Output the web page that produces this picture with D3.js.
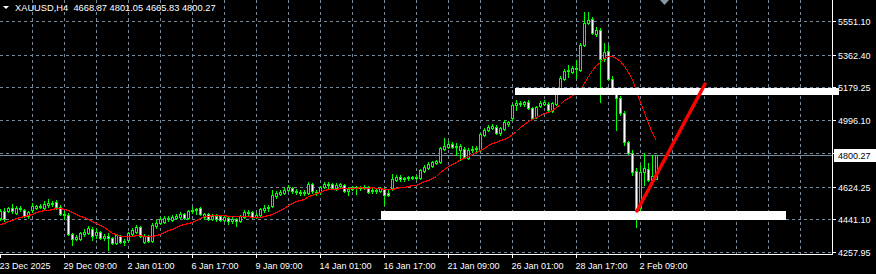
<!DOCTYPE html>
<html>
<head>
<meta charset="utf-8">
<script src="https://cdn.jsdelivr.net/npm/d3@7"></script>
<style>
  body { margin: 0; background: #000; }
  svg { display: block; }
  text { font-family: "Liberation Sans", Arial, sans-serif; font-size: 9px; fill: #fff; }
</style>
</head>
<body>
<div id="chart"></div>
<script>
// XAUUSD H4 bars, oldest first (one value per bar)
var opens = [4448,4487,4487,4504,4476,4504,4493,4459,4493,4504,
  4510,4504,4521,4527,4538,4510,4471,4465,4359,4331,
  4331,4359,4364,4387,4353,4370,4336,4347,4336,4308,
  4347,4314,4325,4359,4370,4398,4314,4347,4319,4403,
  4420,4426,4448,4437,4448,4454,4471,4448,4487,4493,
  4504,4454,4471,4443,4459,4459,4437,4448,4431,4443,
  4431,4454,4476,4482,4454,4465,4493,4504,4515,4571,
  4583,4588,4605,4616,4599,4594,4588,4588,4639,4594,
  4594,4622,4633,4639,4616,4627,4633,4599,4611,4622,
  4616,4622,4622,4599,4605,4599,4611,4588,4616,4661,
  4678,4667,4672,4678,4672,4672,4711,4728,4739,4756,
  4762,4835,4846,4863,4846,4829,4835,4784,4829,4835,
  4829,4913,4941,4952,4958,4924,4947,4975,5008,5081,
  5087,5087,5098,5064,5014,5075,5087,5087,5047,5087,
  5176,5227,5271,5266,5283,5277,5417,5540,5563,5479,
  5501,5339,5383,5227,5165,5120,5036,4874,4812,4711,
  4504,4706,4723,4661,4668.87];
var highs = [4499,4504,4510,4527,4515,4515,4499,4487,4532,4521,
  4527,4543,4555,4543,4549,4521,4487,4476,4364,4353,
  4370,4387,4403,4398,4392,4375,4359,4364,4342,4359,
  4353,4331,4370,4392,4409,4403,4359,4353,4420,4437,
  4454,4459,4459,4465,4471,4482,4476,4493,4510,4504,
  4510,4476,4476,4471,4471,4465,4465,4454,4454,4448,
  4465,4493,4493,4487,4476,4504,4521,4521,4605,4599,
  4605,4616,4633,4622,4611,4605,4605,4650,4644,4605,
  4627,4650,4650,4644,4644,4644,4639,4622,4627,4627,
  4627,4633,4627,4616,4611,4622,4616,4605,4695,4689,
  4689,4678,4683,4683,4689,4723,4745,4762,4767,4773,
  4846,4896,4879,4874,4868,4863,4846,4840,4851,4851,
  4924,4952,4969,4975,4969,4958,4997,4991,5087,5109,
  5103,5103,5109,5070,5075,5103,5109,5098,5098,5159,
  5243,5283,5305,5299,5333,5428,5602,5602,5574,5518,
  5512,5428,5417,5243,5176,5131,5047,4879,4829,4728,
  4745,4812,4756,4801,4801.05];
var lows = [4437,4431,4482,4476,4471,4487,4454,4448,4482,4499,
  4504,4499,4510,4515,4499,4465,4443,4353,4297,4325,
  4325,4347,4359,4325,4336,4331,4325,4269,4303,4303,
  4308,4297,4319,4353,4364,4342,4308,4314,4314,4392,
  4415,4420,4431,4431,4443,4448,4443,4443,4476,4471,
  4465,4443,4437,4437,4431,4431,4431,4415,4420,4403,
  4426,4448,4459,4448,4448,4459,4482,4487,4510,4560,
  4577,4583,4599,4588,4583,4577,4577,4583,4588,4577,
  4583,4616,4616,4611,4605,4616,4594,4577,4605,4583,
  4605,4611,4588,4588,4588,4594,4521,4571,4605,4655,
  4655,4655,4661,4667,4667,4667,4706,4723,4734,4751,
  4756,4829,4840,4840,4801,4773,4784,4779,4818,4823,
  4823,4907,4935,4947,4919,4913,4941,4963,4997,5053,
  5075,5075,5059,5003,5008,5070,5081,5047,5042,5081,
  5165,5221,5238,5260,5232,5271,5411,5535,5479,5467,
  5098,5327,5221,5154,4941,5025,4857,4807,4689,4398,
  4493,4633,4655,4650,4665.83];
var closes = [4487,4443,4504,4487,4504,4499,4459,4482,4515,4515,
  4515,4527,4532,4532,4510,4471,4465,4359,4331,4342,
  4364,4370,4392,4347,4370,4336,4347,4336,4308,4353,
  4314,4319,4364,4381,4398,4347,4347,4319,4409,4420,
  4443,4448,4443,4454,4459,4471,4448,4487,4493,4499,
  4471,4471,4443,4459,4443,4437,4454,4431,4443,4431,
  4459,4482,4482,4454,4465,4499,4504,4510,4577,4588,
  4594,4605,4622,4599,4594,4588,4594,4639,4599,4588,
  4622,4639,4639,4616,4633,4639,4599,4611,4622,4616,
  4622,4616,4594,4605,4599,4616,4577,4577,4667,4678,
  4667,4672,4678,4672,4678,4717,4734,4751,4762,4767,
  4840,4851,4863,4846,4851,4851,4790,4829,4835,4840,
  4919,4941,4958,4963,4924,4952,4986,4986,5081,5092,
  5092,5098,5064,5008,5070,5092,5098,5053,5092,5148,
  5232,5271,5277,5288,5288,5417,5540,5557,5484,5501,
  5339,5378,5227,5165,5120,5036,4874,4812,4706,4499,
  4706,4728,4661,4683,4800.27];
// closes of the bars just before the first visible one (feed the moving average)
var earlierCloses = [4353,4359,4370,4375,4387,4392,4403,4415,4426,4437,4448,4459,4471];
var maPeriod = 14;

// time axis labels and the bar they sit on
var timeLabels = ["23 Dec 2025", "29 Dec 09:00", "2 Jan 01:00", "6 Jan 17:00", "9 Jan 09:00",
  "14 Jan 01:00", "16 Jan 17:00", "21 Jan 09:00", "26 Jan 01:00", "28 Jan 17:00", "2 Feb 09:00"];
var timeLabelBars = [0, 16, 32, 48, 64, 80, 96, 112, 128, 144, 160];

// price grid
var priceTicks = [5551.10, 5362.40, 5179.25, 4996.10, 4812.95, 4624.25, 4441.10, 4257.95];
var lastPrice = 4800.27;
var title = "XAUUSD,H4  4668.87 4801.05 4665.83 4800.27";

// objects drawn on the chart: horizontal levels and a trend line (bar, price)
var levelPrices = [5157, 4466];
var levelFrom = [128.75, 95.25];
var levelTo = [209.75, 196.5];
var trendBars = [159.25, 176.25];
var trendPrices = [4487.6, 5198.8];

var W = 876, H = 274;
var plotW = 832, plotH = 254;
var green = "#00ff00", grid = "#778899";

var svg = d3.select("#chart")
  .append("svg")
    .attr("width", W)
    .attr("height", H)
    .attr("shape-rendering", "crispEdges");

svg.append("rect")
  .attr("width", W)
  .attr("height", H)
  .attr("fill", "#000");

// scales: 4 px per bar
var x = d3.scaleLinear()
  .domain([0, 208])
  .range([0, plotW]);
var y = d3.scaleLinear()
  .domain([4257.95, 5551.10])
  .rangeRound([252, 21]);

// ---------------------------//
//       GRID                 //
// ---------------------------//

svg.append("g")
  .selectAll("line")
  .data(d3.range(8, 208, 8))
  .enter()
  .append("line")
    .attr("x1", function(d) { return x(d) + 0.5; })
    .attr("x2", function(d) { return x(d) + 0.5; })
    .attr("y1", 0)
    .attr("y2", plotH)
    .attr("stroke", grid)
    .style("stroke-dasharray", "3,3");

svg.append("g")
  .selectAll("line")
  .data(priceTicks)
  .enter()
  .append("line")
    .attr("x1", 0)
    .attr("x2", plotW)
    .attr("y1", function(d) { return y(d) + 0.5; })
    .attr("y2", function(d) { return y(d) + 0.5; })
    .attr("stroke", grid)
    .style("stroke-dasharray", "3,3");

// current price line
svg.append("line")
  .attr("x1", 0)
  .attr("x2", plotW)
  .attr("y1", y(lastPrice) + 0.5)
  .attr("y2", y(lastPrice) + 0.5)
  .attr("stroke", grid);

// ---------------------------//
//       CANDLES              //
// ---------------------------//

var bars = opens.map(function(o, i) {
  return { i: i, o: o, h: highs[i], l: lows[i], c: closes[i] };
});

var candle = svg.append("g")
  .selectAll("g")
  .data(bars)
  .enter()
  .append("g");

candle.append("line")
  .attr("x1", function(d) { return x(d.i) + 0.5; })
  .attr("x2", function(d) { return x(d.i) + 0.5; })
  .attr("y1", function(d) { return y(d.h); })
  .attr("y2", function(d) { return y(d.l) + 1; })
  .attr("stroke", green);

candle.append("rect")
  .attr("x", function(d) { return x(d.i) - 0.5; })
  .attr("y", function(d) { return Math.min(y(d.o), y(d.c)) + 0.5; })
  .attr("width", 2)
  .attr("height", function(d) { return Math.abs(y(d.o) - y(d.c)); })
  .attr("fill", function(d) { return d.c > d.o ? "#000" : "#fff"; })
  .attr("stroke", green);

// moving average of closes
var allCloses = earlierCloses.concat(closes);
var ma = closes.map(function(c, i) {
  return d3.mean(allCloses.slice(i + earlierCloses.length - maPeriod + 1, i + earlierCloses.length + 1));
});

svg.append("path")
  .datum(ma)
  .attr("fill", "none")
  .attr("stroke", "#ff0000")
  .attr("stroke-width", 1)
  .attr("d", d3.line()
    .x(function(d, i) { return x(i) + 0.5; })
    .y(function(d) { return y(d) + 0.5; }));

// ---------------------------//
//       DRAWN OBJECTS        //
// ---------------------------//

svg.append("g")
  .selectAll("line")
  .data(levelPrices)
  .enter()
  .append("line")
    .attr("x1", function(d, i) { return x(levelFrom[i]); })
    .attr("x2", function(d, i) { return x(levelTo[i]); })
    .attr("y1", function(d) { return y(d) + 0.5; })
    .attr("y2", function(d) { return y(d) + 0.5; })
    .attr("stroke", "#fff")
    .attr("stroke-width", function(d, i) { return i == 0 ? 7 : 9; });

svg.append("line")
  .attr("x1", x(trendBars[0]))
  .attr("y1", y(trendPrices[0]))
  .attr("x2", x(trendBars[1]))
  .attr("y2", y(trendPrices[1]))
  .attr("stroke", "#ff0000")
  .attr("stroke-width", 3.5)
  .attr("stroke-linecap", "round")
  .attr("shape-rendering", "auto");

// chart shift marker
svg.append("path")
  .attr("d", "M" + x(165) + ",0L" + x(167.25) + ",0L" + (x(165) + x(167.25)) / 2 + ",5Z")
  .attr("fill", "#8796a5")
  .attr("shape-rendering", "auto");

// ---------------------------//
//       AXES                 //
// ---------------------------//

// frame
svg.append("line")
  .attr("x1", plotW + 0.5).attr("x2", plotW + 0.5)
  .attr("y1", 0).attr("y2", plotH + 1)
  .attr("stroke", "#fff");
svg.append("line")
  .attr("x1", 0).attr("x2", plotW + 1)
  .attr("y1", plotH + 0.5).attr("y2", plotH + 0.5)
  .attr("stroke", "#fff");

// price axis
var yAxis = svg.append("g")
  .attr("transform", "translate(" + (plotW + 1) + ",0)")
  .call(d3.axisRight(y).tickValues(priceTicks).tickSize(3).tickPadding(2)
    .tickFormat(d3.format(".2f")));
yAxis.select(".domain").remove();
yAxis.selectAll("line").attr("stroke", "#fff");
yAxis.selectAll("text")
  .attr("fill", "#fff")
  .attr("dy", "0.42em")
  .style("font-family", "Liberation Sans, Arial, sans-serif")
  .style("font-size", "9px");

// time axis
var xAxis = svg.append("g")
  .attr("transform", "translate(0," + (plotH + 1) + ")")
  .call(d3.axisBottom(x).tickValues(timeLabelBars).tickSize(3).tickPadding(5)
    .tickFormat(function(d, i) { return timeLabels[i]; }));
xAxis.select(".domain").remove();
xAxis.selectAll("line").attr("stroke", "#fff");
xAxis.selectAll("text")
  .attr("fill", "#fff")
  .attr("text-anchor", "start")
  .attr("x", -1)
  .style("font-family", "Liberation Sans, Arial, sans-serif")
  .style("font-size", "9px");

// last price tag
svg.append("rect")
  .attr("x", plotW + 2)
  .attr("y", y(lastPrice) - 6)
  .attr("width", 42)
  .attr("height", 13)
  .attr("fill", "#fff");
svg.append("text")
  .attr("x", plotW + 6)
  .attr("y", y(lastPrice) + 4)
  .style("fill", "#000")
  .text(d3.format(".2f")(lastPrice));

// title
svg.append("path")
  .attr("d", "M3,6L9,6L6,9Z")
  .attr("fill", "#fff")
  .attr("shape-rendering", "auto");
svg.append("text")
  .attr("x", 15)
  .attr("y", 11)
  .style("white-space", "pre")
  .style("font-size", "9.3px")
  .text(title);
</script>
</body>
</html>
